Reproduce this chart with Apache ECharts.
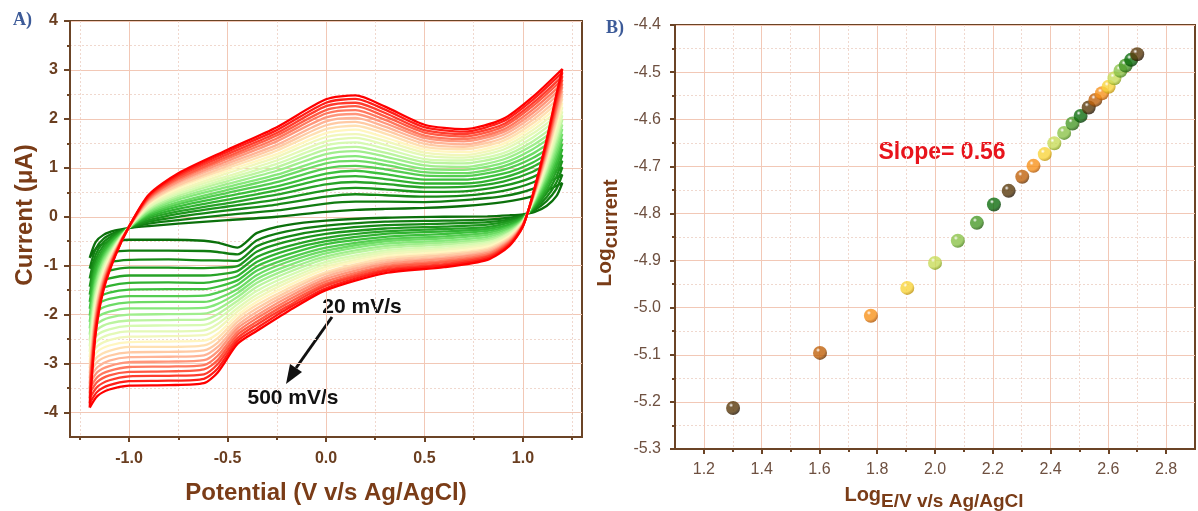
<!DOCTYPE html>
<html>
<head>
<meta charset="utf-8">
<script src="https://cdn.jsdelivr.net/npm/echarts@6/dist/echarts.min.js"></script>
<style>
  html, body { margin: 0; padding: 0; background: #fff; }
  #chart { width: 1198px; height: 511px; }
</style>
</head>
<body>
<div id="chart"></div>
<script>
// ---- panel A: cyclic voltammograms, 20 ... 500 mV/s ----
const scanRates = [20, 40, 60, 80, 100, 120, 140, 160, 180, 200, 220, 240, 260, 280, 300, 320, 340, 360, 380, 400, 420, 440, 460, 480, 500]
const forwardPotential = [-1.2, -1.17, -1.13, -1.07, -1.0, -0.9, -0.75, -0.5, -0.25, 0, 0.15, 0.3, 0.5, 0.7, 0.9, 1.05, 1.2]
const reversePotential = [1.17, 1.12, 1.06, 1.0, 0.93, 0.82, 0.6, 0.3, 0.0, -0.2, -0.35, -0.45, -0.55, -0.62, -0.8, -1.0, -1.1, -1.16]

// current (uA) on the anodic sweep, one row per scan rate
const forwardCurrent = [
  [-0.84, -0.52, -0.37, -0.28, -0.23, -0.19, -0.14, -0.07, 0.00, 0.10, 0.14, 0.16, 0.18, 0.22, 0.30, 0.42, 0.69],
  [-1.06, -0.66, -0.45, -0.32, -0.23, -0.14, -0.07, 0.04, 0.13, 0.27, 0.31, 0.31, 0.30, 0.34, 0.42, 0.57, 0.86],
  [-1.26, -0.78, -0.52, -0.35, -0.23, -0.10, 0.00, 0.13, 0.25, 0.41, 0.46, 0.44, 0.41, 0.43, 0.53, 0.70, 1.01],
  [-1.43, -0.88, -0.59, -0.38, -0.22, -0.07, 0.06, 0.21, 0.35, 0.54, 0.59, 0.56, 0.51, 0.52, 0.63, 0.81, 1.14],
  [-1.59, -0.98, -0.65, -0.41, -0.22, -0.03, 0.11, 0.28, 0.45, 0.66, 0.71, 0.67, 0.60, 0.61, 0.72, 0.92, 1.26],
  [-1.74, -1.07, -0.70, -0.43, -0.22, 0.00, 0.16, 0.35, 0.54, 0.78, 0.83, 0.77, 0.68, 0.68, 0.80, 1.02, 1.38],
  [-1.88, -1.16, -0.76, -0.46, -0.22, 0.03, 0.21, 0.42, 0.62, 0.88, 0.94, 0.87, 0.76, 0.76, 0.88, 1.11, 1.49],
  [-2.02, -1.25, -0.81, -0.48, -0.22, 0.06, 0.26, 0.49, 0.71, 0.99, 1.04, 0.97, 0.84, 0.83, 0.96, 1.20, 1.59],
  [-2.15, -1.33, -0.86, -0.50, -0.22, 0.09, 0.30, 0.55, 0.79, 1.09, 1.14, 1.06, 0.91, 0.89, 1.03, 1.29, 1.69],
  [-2.28, -1.41, -0.90, -0.53, -0.22, 0.11, 0.35, 0.61, 0.86, 1.18, 1.24, 1.14, 0.98, 0.96, 1.10, 1.38, 1.79],
  [-2.41, -1.48, -0.95, -0.55, -0.21, 0.14, 0.39, 0.67, 0.94, 1.28, 1.34, 1.23, 1.05, 1.02, 1.17, 1.46, 1.88],
  [-2.53, -1.56, -0.99, -0.57, -0.21, 0.16, 0.43, 0.73, 1.01, 1.37, 1.43, 1.31, 1.12, 1.09, 1.24, 1.54, 1.98],
  [-2.65, -1.63, -1.04, -0.59, -0.21, 0.19, 0.47, 0.78, 1.08, 1.46, 1.52, 1.39, 1.18, 1.15, 1.30, 1.62, 2.07],
  [-2.76, -1.70, -1.08, -0.61, -0.21, 0.21, 0.51, 0.83, 1.15, 1.54, 1.61, 1.47, 1.25, 1.21, 1.37, 1.70, 2.15],
  [-2.87, -1.77, -1.12, -0.63, -0.21, 0.24, 0.54, 0.89, 1.22, 1.63, 1.69, 1.55, 1.31, 1.26, 1.43, 1.77, 2.24],
  [-2.98, -1.84, -1.16, -0.64, -0.21, 0.26, 0.58, 0.94, 1.28, 1.71, 1.78, 1.62, 1.37, 1.32, 1.49, 1.84, 2.32],
  [-3.09, -1.90, -1.20, -0.66, -0.21, 0.28, 0.62, 0.99, 1.35, 1.79, 1.86, 1.70, 1.43, 1.38, 1.55, 1.91, 2.41],
  [-3.20, -1.97, -1.24, -0.68, -0.21, 0.30, 0.65, 1.04, 1.41, 1.87, 1.94, 1.77, 1.49, 1.43, 1.61, 1.98, 2.48],
  [-3.30, -2.03, -1.28, -0.70, -0.21, 0.33, 0.69, 1.09, 1.47, 1.95, 2.02, 1.84, 1.55, 1.48, 1.67, 2.05, 2.57],
  [-3.41, -2.10, -1.32, -0.72, -0.20, 0.35, 0.72, 1.14, 1.54, 2.03, 2.10, 1.91, 1.61, 1.54, 1.73, 2.12, 2.65],
  [-3.51, -2.16, -1.36, -0.73, -0.20, 0.37, 0.76, 1.19, 1.60, 2.11, 2.18, 1.98, 1.66, 1.59, 1.78, 2.19, 2.72],
  [-3.61, -2.22, -1.39, -0.75, -0.20, 0.39, 0.79, 1.23, 1.66, 2.18, 2.26, 2.05, 1.72, 1.64, 1.84, 2.26, 2.80],
  [-3.71, -2.28, -1.43, -0.77, -0.20, 0.41, 0.83, 1.28, 1.71, 2.26, 2.33, 2.12, 1.77, 1.69, 1.89, 2.32, 2.87],
  [-3.81, -2.34, -1.47, -0.78, -0.20, 0.43, 0.86, 1.33, 1.77, 2.33, 2.41, 2.19, 1.83, 1.74, 1.95, 2.39, 2.95],
  [-3.90, -2.40, -1.50, -0.80, -0.20, 0.45, 0.89, 1.37, 1.83, 2.40, 2.48, 2.25, 1.88, 1.79, 2.00, 2.45, 3.02]
]

// current (uA) on the cathodic sweep, one row per scan rate
const reverseCurrent = [
  [0.42, 0.22, 0.10, 0.05, 0.03, 0.01, 0.00, -0.02, -0.08, -0.17, -0.33, -0.63, -0.53, -0.49, -0.47, -0.47, -0.52, -0.62],
  [0.57, 0.32, 0.14, 0.03, -0.02, -0.06, -0.08, -0.10, -0.18, -0.30, -0.48, -0.77, -0.72, -0.70, -0.69, -0.69, -0.74, -0.84],
  [0.70, 0.40, 0.17, 0.02, -0.06, -0.11, -0.14, -0.17, -0.27, -0.41, -0.60, -0.90, -0.89, -0.89, -0.87, -0.88, -0.93, -1.03],
  [0.82, 0.48, 0.20, 0.00, -0.09, -0.16, -0.20, -0.24, -0.35, -0.51, -0.71, -1.01, -1.04, -1.05, -1.04, -1.04, -1.10, -1.20],
  [0.93, 0.55, 0.22, -0.01, -0.12, -0.21, -0.25, -0.30, -0.43, -0.61, -0.82, -1.11, -1.18, -1.20, -1.20, -1.20, -1.26, -1.37],
  [1.03, 0.62, 0.25, -0.02, -0.16, -0.25, -0.30, -0.35, -0.50, -0.69, -0.92, -1.21, -1.31, -1.35, -1.34, -1.35, -1.41, -1.51],
  [1.13, 0.68, 0.27, -0.04, -0.19, -0.29, -0.35, -0.41, -0.56, -0.78, -1.01, -1.30, -1.43, -1.48, -1.48, -1.49, -1.55, -1.66],
  [1.22, 0.74, 0.29, -0.05, -0.21, -0.33, -0.40, -0.46, -0.63, -0.86, -1.10, -1.39, -1.55, -1.61, -1.62, -1.62, -1.68, -1.79],
  [1.31, 0.80, 0.32, -0.06, -0.24, -0.37, -0.44, -0.50, -0.69, -0.93, -1.19, -1.48, -1.67, -1.74, -1.74, -1.75, -1.81, -1.92],
  [1.40, 0.86, 0.34, -0.07, -0.27, -0.41, -0.49, -0.55, -0.75, -1.01, -1.27, -1.56, -1.78, -1.86, -1.87, -1.87, -1.94, -2.05],
  [1.49, 0.91, 0.36, -0.08, -0.29, -0.45, -0.53, -0.60, -0.81, -1.08, -1.35, -1.64, -1.89, -1.98, -1.99, -2.00, -2.06, -2.18],
  [1.57, 0.97, 0.38, -0.09, -0.32, -0.48, -0.57, -0.64, -0.86, -1.15, -1.43, -1.72, -1.99, -2.10, -2.11, -2.12, -2.18, -2.30],
  [1.65, 1.02, 0.40, -0.10, -0.34, -0.52, -0.61, -0.69, -0.92, -1.22, -1.51, -1.79, -2.09, -2.21, -2.22, -2.23, -2.30, -2.41],
  [1.73, 1.07, 0.41, -0.11, -0.37, -0.55, -0.65, -0.73, -0.97, -1.29, -1.59, -1.87, -2.19, -2.32, -2.34, -2.34, -2.41, -2.53],
  [1.80, 1.12, 0.43, -0.12, -0.39, -0.58, -0.68, -0.77, -1.02, -1.35, -1.66, -1.94, -2.29, -2.42, -2.44, -2.45, -2.52, -2.64],
  [1.88, 1.17, 0.45, -0.13, -0.41, -0.61, -0.72, -0.81, -1.07, -1.42, -1.73, -2.01, -2.39, -2.53, -2.55, -2.56, -2.63, -2.75],
  [1.95, 1.21, 0.47, -0.13, -0.43, -0.65, -0.76, -0.85, -1.13, -1.48, -1.80, -2.08, -2.48, -2.63, -2.66, -2.66, -2.74, -2.86],
  [2.02, 1.26, 0.49, -0.14, -0.46, -0.68, -0.79, -0.89, -1.17, -1.54, -1.87, -2.15, -2.57, -2.73, -2.76, -2.77, -2.84, -2.96],
  [2.09, 1.31, 0.50, -0.15, -0.48, -0.71, -0.83, -0.93, -1.22, -1.60, -1.94, -2.22, -2.66, -2.83, -2.86, -2.87, -2.94, -3.07],
  [2.17, 1.35, 0.52, -0.16, -0.50, -0.74, -0.86, -0.97, -1.27, -1.66, -2.01, -2.28, -2.75, -2.93, -2.96, -2.97, -3.05, -3.17],
  [2.23, 1.40, 0.54, -0.17, -0.52, -0.77, -0.90, -1.01, -1.32, -1.72, -2.07, -2.35, -2.84, -3.03, -3.06, -3.07, -3.15, -3.27],
  [2.30, 1.44, 0.55, -0.18, -0.54, -0.80, -0.93, -1.04, -1.37, -1.78, -2.14, -2.41, -2.93, -3.12, -3.16, -3.17, -3.24, -3.37],
  [2.37, 1.49, 0.57, -0.18, -0.56, -0.82, -0.97, -1.08, -1.41, -1.84, -2.20, -2.48, -3.01, -3.22, -3.25, -3.26, -3.34, -3.47],
  [2.44, 1.53, 0.58, -0.19, -0.58, -0.85, -1.00, -1.11, -1.46, -1.89, -2.27, -2.54, -3.10, -3.31, -3.35, -3.36, -3.44, -3.57],
  [2.50, 1.57, 0.60, -0.20, -0.60, -0.88, -1.03, -1.15, -1.50, -1.95, -2.33, -2.60, -3.18, -3.40, -3.44, -3.45, -3.53, -3.66]
]

// ---- panel B: log(current) vs log(scan rate) ----
const logScanRate = [1.301, 1.602, 1.778, 1.904, 2.000, 2.079, 2.145, 2.204, 2.255, 2.302, 2.341, 2.380, 2.413, 2.447, 2.476, 2.504, 2.532, 2.555, 2.578, 2.601, 2.621, 2.642, 2.660, 2.679, 2.700]
const logCurrent = [-5.213, -5.096, -5.017, -4.958, -4.905, -4.858, -4.820, -4.781, -4.752, -4.722, -4.699, -4.674, -4.651, -4.629, -4.609, -4.593, -4.575, -4.559, -4.545, -4.531, -4.513, -4.497, -4.486, -4.474, -4.462]

// tick labels
const cvPotentialTicks = [-1.0, -0.5, 0.0, 0.5, 1.0]
const cvCurrentTicks = [-4, -3, -2, -1, 0, 1, 2, 3, 4]
const logRateTicks = [1.2, 1.4, 1.6, 1.8, 2.0, 2.2, 2.4, 2.6, 2.8]

// colours
const cvStops = ['#0b700b', '#1c951c', '#3cc03c', '#85e87a', '#d6fab2', '#fff6c0', '#ffb496', '#ff5a44', '#ff0000']
const ballColors = [
  ['#5a3a0c', '#241402'], ['#c0620c', '#6a3302'], ['#f7921c', '#b05502'], ['#f8d43c', '#bf940a'],
  ['#c8dc5a', '#86a01e'], ['#8cc34a', '#4c861c'], ['#4a9a2a', '#215c0c'], ['#0f6e0f', '#033803']
]

const BROWN = '#6b4426'
const TITLE = '#7a3c17'
const MAJOR = '#f2c8b6'
const MINOR = '#f0d8ce'

const chart = echarts.init(document.getElementById('chart'), null, { renderer: 'canvas' })

const cvSeries = scanRates.map((rate, k) => {
  const pts = forwardPotential.map((v, i) => [v, forwardCurrent[k][i]])
    .concat(reversePotential.map((v, i) => [v, reverseCurrent[k][i]]))
  pts.push([forwardPotential[0], forwardCurrent[k][0]])
  return {
    name: rate + ' mV/s',
    type: 'line',
    xAxisIndex: 0,
    yAxisIndex: 0,
    data: pts,
    showSymbol: false,
    smooth: 0.25,
    lineStyle: { width: 2.3, color: echarts.color.lerp(k / (scanRates.length - 1), cvStops) },
    silent: true
  }
})

function ball(pair) {
  return {
    type: 'radial', x: 0.36, y: 0.3, r: 0.7,
    colorStops: [
      { offset: 0, color: '#ffffff' },
      { offset: 0.22, color: pair[0] },
      { offset: 0.7, color: pair[0] },
      { offset: 1, color: pair[1] }
    ]
  }
}

const fmt1 = v => Number(v).toFixed(1)

const majorAxisCommon = {
  axisLine: { show: true, onZero: false, lineStyle: { color: BROWN, width: 2 } },
  splitLine: { show: true, lineStyle: { color: MAJOR, width: 1 } }
}
const minorAxisCommon = {
  axisLine: { show: false, onZero: false },
  axisLabel: { show: false },
  splitLine: { show: true, lineStyle: { color: MINOR, width: 1, type: [2, 2] } }
}

const option = {
  animation: false,
  backgroundColor: '#fff',
  grid: [
    { left: 70, right: 616, top: 21, bottom: 74, show: true, borderColor: BROWN, borderWidth: 2, backgroundColor: 'transparent' },
    { left: 675, right: 3, top: 25, bottom: 62, show: true, borderColor: BROWN, borderWidth: 2, backgroundColor: 'transparent' }
  ],
  xAxis: [
    Object.assign({}, majorAxisCommon, {
      type: 'value', gridIndex: 0, position: 'bottom', min: -1.3, max: 1.3,
      axisTick: { show: true, customValues: cvPotentialTicks, length: 5, lineStyle: { color: BROWN, width: 2 } },
      axisLabel: { customValues: cvPotentialTicks, formatter: fmt1, color: '#6a3e20', fontWeight: 'bold', fontSize: 16, margin: 14, fontFamily: 'Liberation Sans, Arial, sans-serif' }
    }),
    Object.assign({}, minorAxisCommon, {
      type: 'value', gridIndex: 0, position: 'bottom', min: -1.3, max: 1.3,
      axisTick: { show: true, customValues: [-1.25, -0.75, -0.25, 0.25, 0.75, 1.25], length: 3, lineStyle: { color: BROWN, width: 2 } }
    }),
    Object.assign({}, majorAxisCommon, {
      type: 'value', gridIndex: 1, position: 'bottom', min: 1.1, max: 2.9,
      axisTick: { show: true, customValues: logRateTicks, length: 5, lineStyle: { color: BROWN, width: 2 } },
      axisLabel: { customValues: logRateTicks, formatter: fmt1, color: '#6e5040', fontSize: 16, margin: 13, fontFamily: 'Liberation Sans, Arial, sans-serif' }
    }),
    Object.assign({}, minorAxisCommon, {
      type: 'value', gridIndex: 1, position: 'bottom', min: 1.1, max: 2.9,
      axisTick: { show: true, customValues: [1.3, 1.5, 1.7, 1.9, 2.1, 2.3, 2.5, 2.7], length: 3, lineStyle: { color: BROWN, width: 2 } }
    })
  ],
  yAxis: [
    Object.assign({}, majorAxisCommon, {
      type: 'value', gridIndex: 0, position: 'left', min: -4.5, max: 4,
      axisTick: { show: true, customValues: cvCurrentTicks, length: 6, lineStyle: { color: BROWN, width: 2 } },
      axisLabel: { customValues: cvCurrentTicks, color: '#6a3e20', fontWeight: 'bold', fontSize: 16, margin: 12, fontFamily: 'Liberation Sans, Arial, sans-serif' }
    }),
    Object.assign({}, minorAxisCommon, {
      type: 'value', gridIndex: 0, position: 'left', min: -4.5, max: 4,
      axisTick: { show: true, customValues: [-3.5, -2.5, -1.5, -0.5, 0.5, 1.5, 2.5, 3.5], length: 3, lineStyle: { color: BROWN, width: 2 } }
    }),
    Object.assign({}, majorAxisCommon, {
      type: 'value', gridIndex: 1, position: 'left', min: -5.3, max: -4.4, interval: 0.1,
      axisTick: { show: true, length: 5, lineStyle: { color: BROWN, width: 2 } },
      minorTick: { show: true, splitNumber: 2, length: 3, lineStyle: { color: BROWN, width: 2 } },
      minorSplitLine: { show: true, lineStyle: { color: MINOR, width: 1, type: [2, 2] } },
      axisLabel: { formatter: fmt1, color: '#6e5040', fontSize: 16, margin: 14, fontFamily: 'Liberation Sans, Arial, sans-serif' }
    })
  ],
  series: cvSeries.concat([{
    name: 'log',
    type: 'scatter',
    xAxisIndex: 2,
    yAxisIndex: 2,
    symbolSize: 14,
    data: logScanRate.map((x, i) => ({
      value: [x, logCurrent[i]],
      itemStyle: { color: ball(ballColors[i % ballColors.length]) }
    }))
  }]),
  graphic: [
    { type: 'text', x: 13, y: 11, style: { text: 'A)', font: 'bold 18px "Liberation Serif", "DejaVu Serif", serif', fill: '#3c5a98' } },
    { type: 'text', x: 606, y: 19, style: { text: 'B)', font: 'bold 18px "Liberation Serif", "DejaVu Serif", serif', fill: '#3c5a98' } },
    { type: 'text', x: 25, y: 215, rotation: Math.PI / 2,
      style: { text: 'Current (\u03bcA)', font: 'bold 24px "Liberation Sans", Arial, sans-serif', fill: TITLE, align: 'center', verticalAlign: 'middle' } },
    { type: 'text', x: 326, y: 493,
      style: { text: 'Potential (V v/s Ag/AgCl)', font: 'bold 24px "Liberation Sans", Arial, sans-serif', fill: TITLE, align: 'center', verticalAlign: 'middle' } },
    { type: 'text', x: 362, y: 307,
      style: { text: '20 mV/s', font: 'bold 21px "Liberation Sans", Arial, sans-serif', fill: '#111', align: 'center', verticalAlign: 'middle' } },
    { type: 'text', x: 293, y: 398,
      style: { text: '500 mV/s', font: 'bold 21px "Liberation Sans", Arial, sans-serif', fill: '#111', align: 'center', verticalAlign: 'middle' } },
    { type: 'line', shape: { x1: 332, y1: 317, x2: 296, y2: 368 }, style: { stroke: '#111', lineWidth: 3 } },
    { type: 'polygon', shape: { points: [[286, 384], [302, 372], [290, 364]] }, style: { fill: '#111' } },
    { type: 'text', x: 942, y: 153,
      style: { text: 'Slope= 0.56', font: 'bold 23px "Liberation Sans", Arial, sans-serif', fill: '#e8141c', align: 'center', verticalAlign: 'middle' } },
    { type: 'text', x: 608, y: 233, rotation: Math.PI / 2,
      style: {
        text: '{a|Log}{b|current}', align: 'center', verticalAlign: 'middle',
        rich: {
          a: { font: 'bold 21px "Liberation Sans", Arial, sans-serif', fill: TITLE, verticalAlign: 'bottom', padding: [0, 0, 6, 0] },
          b: { font: 'bold 20px "Liberation Sans", Arial, sans-serif', fill: TITLE, verticalAlign: 'bottom' }
        }
      } },
    { type: 'text', x: 934, y: 498,
      style: {
        text: '{a|Log}{b|E/V v/s Ag/AgCl}', align: 'center', verticalAlign: 'middle',
        rich: {
          a: { font: 'bold 20px "Liberation Sans", Arial, sans-serif', fill: TITLE, verticalAlign: 'bottom', padding: [0, 0, 6, 0] },
          b: { font: 'bold 19px "Liberation Sans", Arial, sans-serif', fill: TITLE, verticalAlign: 'bottom' }
        }
      } }
  ]
}

chart.setOption(option)
</script>
</body>
</html>
